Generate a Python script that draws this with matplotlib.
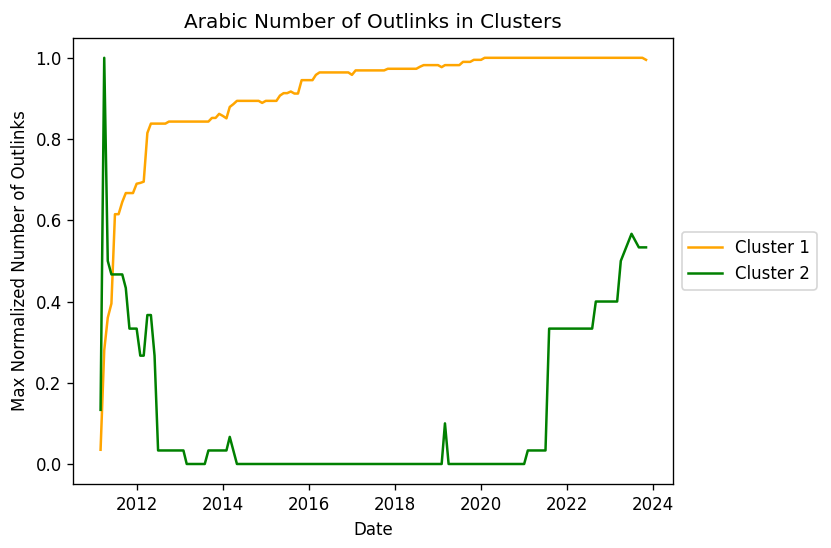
import matplotlib
matplotlib.use("Agg")
import matplotlib.pyplot as plt
import pandas as pd

# monthly (month-end) samples, Feb 2011 .. Oct 2023
dates = pd.date_range("2011-02-28", "2023-10-31", freq="ME")

# one row per calendar year
cluster1 = [
    0.035, 0.28, 0.36, 0.395, 0.615, 0.615, 0.645, 0.667, 0.667, 0.667, 0.69,                 # 2011
    0.692, 0.695, 0.815, 0.838, 0.838, 0.838, 0.838, 0.838, 0.843, 0.843, 0.843, 0.843,       # 2012
    0.843, 0.843, 0.843, 0.843, 0.843, 0.843, 0.843, 0.843, 0.852, 0.852, 0.862, 0.857,       # 2013
    0.851, 0.879, 0.886, 0.894, 0.894, 0.894, 0.894, 0.894, 0.894, 0.894, 0.889, 0.894,       # 2014
    0.894, 0.894, 0.894, 0.907, 0.913, 0.913, 0.917, 0.912, 0.912, 0.945, 0.945, 0.945,       # 2015
    0.945, 0.958, 0.964, 0.964, 0.964, 0.964, 0.964, 0.964, 0.964, 0.964, 0.964, 0.958,       # 2016
    0.969, 0.969, 0.969, 0.969, 0.969, 0.969, 0.969, 0.969, 0.969, 0.973, 0.973, 0.973,       # 2017
    0.973, 0.973, 0.973, 0.973, 0.973, 0.973, 0.978, 0.982, 0.982, 0.982, 0.982, 0.982,       # 2018
    0.977, 0.982, 0.982, 0.982, 0.982, 0.982, 0.99, 0.99, 0.99, 0.995, 0.995, 0.995,          # 2019
    1.0, 1.0, 1.0, 1.0, 1.0, 1.0, 1.0, 1.0, 1.0, 1.0, 1.0, 1.0,                               # 2020
    1.0, 1.0, 1.0, 1.0, 1.0, 1.0, 1.0, 1.0, 1.0, 1.0, 1.0, 1.0,                               # 2021
    1.0, 1.0, 1.0, 1.0, 1.0, 1.0, 1.0, 1.0, 1.0, 1.0, 1.0, 1.0,                               # 2022
    1.0, 1.0, 1.0, 1.0, 1.0, 1.0, 1.0, 1.0, 1.0, 0.995,                                       # 2023
]

cluster2 = [
    0.1333, 1.0, 0.5, 0.4667, 0.4667, 0.4667, 0.4667, 0.4333, 0.3333, 0.3333, 0.3333,        # 2011
    0.2667, 0.2667, 0.3667, 0.3667, 0.2667, 0.0333, 0.0333, 0.0333, 0.0333, 0.0333, 0.0333, 0.0333,  # 2012
    0.0333, 0.0, 0.0, 0.0, 0.0, 0.0, 0.0, 0.0333, 0.0333, 0.0333, 0.0333, 0.0333,             # 2013
    0.0333, 0.0667, 0.0333, 0.0, 0.0, 0.0, 0.0, 0.0, 0.0, 0.0, 0.0, 0.0,                      # 2014
    0.0, 0.0, 0.0, 0.0, 0.0, 0.0, 0.0, 0.0, 0.0, 0.0, 0.0, 0.0,                               # 2015
    0.0, 0.0, 0.0, 0.0, 0.0, 0.0, 0.0, 0.0, 0.0, 0.0, 0.0, 0.0,                               # 2016
    0.0, 0.0, 0.0, 0.0, 0.0, 0.0, 0.0, 0.0, 0.0, 0.0, 0.0, 0.0,                               # 2017
    0.0, 0.0, 0.0, 0.0, 0.0, 0.0, 0.0, 0.0, 0.0, 0.0, 0.0, 0.0,                               # 2018
    0.0, 0.1, 0.0, 0.0, 0.0, 0.0, 0.0, 0.0, 0.0, 0.0, 0.0, 0.0,                               # 2019
    0.0, 0.0, 0.0, 0.0, 0.0, 0.0, 0.0, 0.0, 0.0, 0.0, 0.0, 0.0,                               # 2020
    0.0333, 0.0333, 0.0333, 0.0333, 0.0333, 0.0333, 0.3333, 0.3333, 0.3333, 0.3333, 0.3333, 0.3333,  # 2021
    0.3333, 0.3333, 0.3333, 0.3333, 0.3333, 0.3333, 0.3333, 0.4, 0.4, 0.4, 0.4, 0.4,          # 2022
    0.4, 0.4, 0.5, 0.522, 0.544, 0.5667, 0.55, 0.5333, 0.5333, 0.5333,                       # 2023
]

DPI = 120
W, H = 831, 548
fig = plt.figure(figsize=(W / DPI, H / DPI), dpi=DPI)
ax = fig.add_axes([73.3 / W, 1 - 484.3 / H, (673.3 - 73.3) / W, (484.3 - 37.5) / H])

ax.plot(dates, cluster1, color="orange", label="Cluster 1")
ax.plot(dates, cluster2, color="green", label="Cluster 2")

ax.set_title("Arabic Number of Outlinks in Clusters")
ax.set_xlabel("Date")
ax.set_ylabel("Max Normalized Number of Outlinks")
ax.legend(loc="center left", bbox_to_anchor=(1, 0.5))

fig.savefig("out.png", dpi=DPI)
